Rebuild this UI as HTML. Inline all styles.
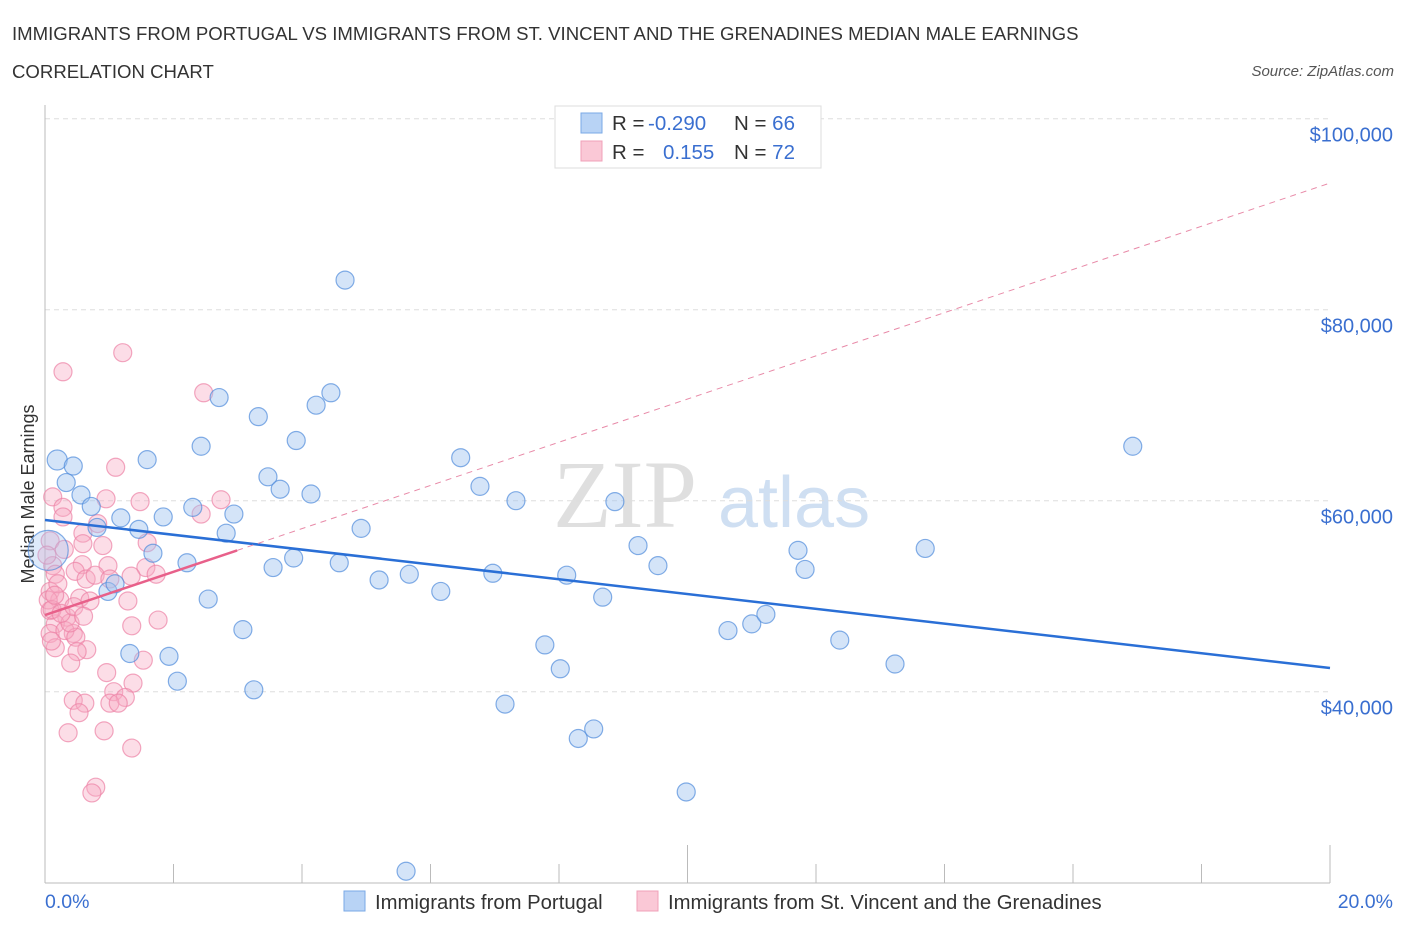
<!DOCTYPE html>
<html><head><meta charset="utf-8">
<style>
body{margin:0;background:#fff;font-family:"Liberation Sans",sans-serif;}
svg{display:block}
</style></head>
<body>
<svg id="chart" width="1406" height="930" viewBox="0 0 1406 930" xmlns="http://www.w3.org/2000/svg">
<text x="12" y="40" font-size="18.6" fill="#333">IMMIGRANTS FROM PORTUGAL VS IMMIGRANTS FROM ST. VINCENT AND THE GRENADINES MEDIAN MALE EARNINGS</text>
<text x="12" y="78" font-size="18.6" fill="#333">CORRELATION CHART</text>
<text x="1394" y="76" font-size="15" font-style="italic" fill="#555" text-anchor="end">Source: ZipAtlas.com</text>
<text x="553" y="527" font-size="96" font-family="Liberation Serif" fill="#d8d8d8" opacity="0.8">ZIP</text>
<text x="718" y="527" font-size="72" fill="#c4d8f0" opacity="0.8">atlas</text>
<text transform="translate(34,494) rotate(-90)" font-size="18" fill="#333" text-anchor="middle">Median Male Earnings</text>
<g id="grid"></g>
<g id="axes"></g>
<g id="marks"></g>
<g id="trend"></g>
<g>
<rect x="555" y="106" width="266" height="62" fill="#fff" stroke="#ddd"/>
<rect x="581" y="113" width="21" height="20" fill="#b8d3f5" stroke="#7aa8e6"/>
<rect x="581" y="141" width="21" height="20" fill="#fac8d6" stroke="#f0a0b8"/>
<text x="612" y="130" font-size="20.5" fill="#333">R = <tspan x="648" fill="#3a6fd0">-0.290</tspan><tspan x="734">N = </tspan><tspan fill="#3a6fd0">66</tspan></text>
<text x="612" y="159" font-size="20.5" fill="#333">R = <tspan x="663" fill="#3a6fd0">0.155</tspan><tspan x="734">N = </tspan><tspan fill="#3a6fd0">72</tspan></text>
</g>
<g>
<rect x="344" y="891" width="21" height="20" fill="#b8d3f5" stroke="#7aa8e6"/>
<text x="375" y="909" font-size="20.3" fill="#333">Immigrants from Portugal</text>
<rect x="637" y="891" width="21" height="20" fill="#fac8d6" stroke="#f0a0b8"/>
<text x="668" y="909" font-size="20.3" fill="#333">Immigrants from St. Vincent and the Grenadines</text>
</g>
</svg>
<script>
const xTicks=[0,2,4,6,8,10,12,14,16,18,20];
const yTicks=[40000,60000,80000,100000];
const yTickLabels=["$40,000","$60,000","$80,000","$100,000"];
const blueX=[4.67,0.19,0.44,0.33,0.56,0.72,0.81,1.18,1.46,1.68,1.84,1.59,2.43,2.71,3.32,3.91,4.22,4.45,2.30,2.82,2.94,3.47,3.66,4.14,4.92,3.87,3.55,4.58,2.21,5.20,5.67,6.16,6.47,6.77,7.33,6.97,8.12,8.87,9.23,9.54,8.68,7.78,8.02,7.16,8.30,8.54,9.98,5.62,10.63,11.00,11.22,11.72,11.83,12.37,13.23,13.70,16.93,0.98,1.09,2.54,3.08,1.32,1.93,2.06,3.25,0.05];
const blueY=[83100,64260,63630,61900,60600,59400,57200,58200,57000,54500,58300,64300,65700,70800,68800,66300,70000,71300,59300,56600,58600,62500,61200,60700,57100,54000,53000,53500,53500,51700,52300,50500,64500,61500,60000,52400,52200,59900,55300,53200,49900,44900,42400,38700,35100,36100,29500,21200,46400,47100,48100,54800,52800,45400,42900,55000,65700,50500,51300,49700,46500,44000,43700,41100,40200,54800];
const pinkX=[1.21,0.28,2.47,1.10,0.12,0.28,0.28,0.95,1.48,2.74,2.43,0.82,0.59,0.59,0.90,1.59,0.08,0.12,0.58,0.98,1.57,0.16,0.47,0.64,1.34,1.73,0.08,0.23,0.54,1.29,0.08,0.34,1.76,1.35,0.16,0.08,0.44,0.31,0.48,0.16,0.65,0.50,0.40,1.53,0.96,1.37,1.07,1.25,1.01,1.14,0.44,0.62,0.53,0.36,0.92,1.35,0.79,0.73,0.05,0.11,0.03,0.20,0.39,0.70,0.78,1.01,0.25,0.15,0.45,0.60,0.30,0.10];
const pinkY=[75500,73500,71300,63500,60400,59300,58300,60200,59900,60100,58600,57600,56600,55500,55300,55600,55800,53200,53300,53200,53000,52300,52600,51800,52100,52300,50500,49600,49800,49500,48500,47800,47500,46900,47100,46100,46100,46400,45700,44600,44400,44200,43000,43300,42000,40900,40000,39400,38800,38800,39100,38800,37800,35700,35900,34100,30000,29400,49600,48600,54300,51300,47200,49500,52200,51800,48200,50100,48900,47900,54900,45300];
const blueTrend=[57980,42480];
const pinkTrend=[48030,93260];
const pinkSolidEnd=2.99;
const X=v=>45+v/20*1285;
const Y=v=>500.7-(v-60000)/20000*191;
const NS="http://www.w3.org/2000/svg";
function mk(tag,attrs,parent){const e=document.createElementNS(NS,tag);for(const k in attrs)e.setAttribute(k,attrs[k]);parent.appendChild(e);return e;}
const grid=document.getElementById('grid'),axes=document.getElementById('axes'),marks=document.getElementById('marks'),trend=document.getElementById('trend');
yTicks.forEach((t,i)=>{
 const l=mk('line',{x1:45,x2:1330,y1:Y(t),y2:Y(t),stroke:'#ddd','stroke-dasharray':'5,4'},grid);
 
 
 const tx=mk('text',{x:1393,y:Y(t)+23,'font-size':20,fill:'#3a6fd0','text-anchor':'end'},axes);
 tx.textContent=yTickLabels[i];
 
 
});
const ax=mk('line',{x1:45,x2:45,y1:105,y2:883,stroke:'#bbb'},axes);


const bx=mk('line',{x1:45,x2:1330,y1:883,y2:883,stroke:'#bbb'},axes);


xTicks.forEach((t,i)=>{
 const tall=(i===5||i===10);
 const tk=mk('line',{x1:X(t),x2:X(t),y1:tall?845:864,y2:883,stroke:'#bbb'},axes);
 
 
});
const xl0=mk('text',{x:45,y:908,'font-size':19.5,fill:'#3a6fd0'},axes);xl0.textContent=xTicks[0].toFixed(1)+'%';


const xl1=mk('text',{x:1393,y:908,'font-size':19.5,fill:'#3a6fd0','text-anchor':'end'},axes);xl1.textContent=xTicks[10].toFixed(1)+'%';


const clip=mk('clipPath',{id:'pc'},marks);mk('rect',{x:0,y:0,width:1406,height:883},clip);
marks.setAttribute('clip-path','url(#pc)');
pinkX.forEach((x,i)=>{
 const c=mk('circle',{cx:X(x),cy:Y(pinkY[i]),r:9,fill:'rgba(248,170,195,0.4)',stroke:'rgba(236,130,165,0.7)','stroke-width':1.2},marks);
 
 
});
blueX.forEach((x,i)=>{
 const r=i===65?20:(i===1?10:9);
 const c=mk('circle',{cx:X(x),cy:Y(blueY[i]),r:r,fill:i===65?'rgba(160,196,240,0.35)':'rgba(160,196,240,0.45)',stroke:'rgba(80,140,220,0.7)','stroke-width':1.2},marks);
 
 
});
const bl=mk('line',{x1:X(0),y1:Y(blueTrend[0]),x2:X(20),y2:Y(blueTrend[1]),stroke:'#2a6fd6','stroke-width':2.5},trend);


const pAt=v=>pinkTrend[0]+(pinkTrend[1]-pinkTrend[0])*v/20;
const pd=mk('line',{x1:X(pinkSolidEnd),y1:Y(pAt(pinkSolidEnd)),x2:X(20),y2:Y(pinkTrend[1]),stroke:'#e88aa8','stroke-width':1,'stroke-dasharray':'6,5'},trend);


const ps=mk('line',{x1:X(0),y1:Y(pinkTrend[0]),x2:X(pinkSolidEnd),y2:Y(pAt(pinkSolidEnd)),stroke:'#e8608a','stroke-width':2.5},trend);


</script>
</body></html>
